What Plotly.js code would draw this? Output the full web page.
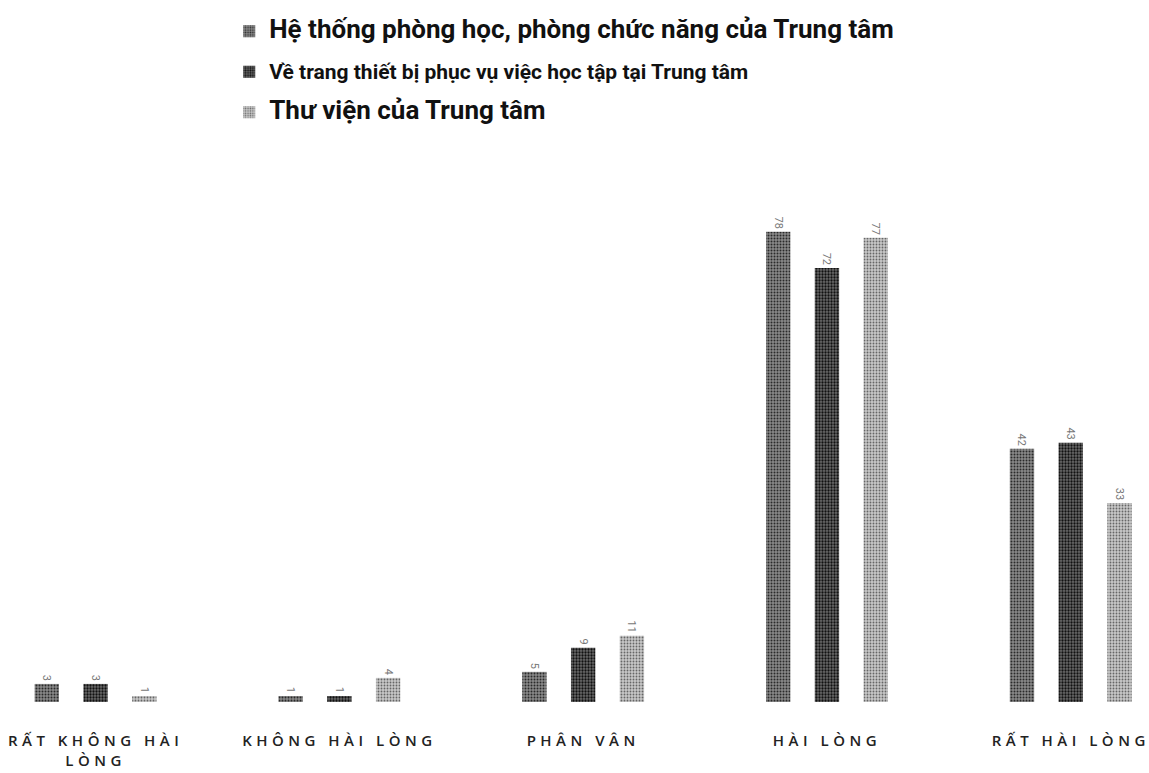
<!DOCTYPE html>
<html>
<head>
<meta charset="utf-8">
<script src="https://cdn.plot.ly/plotly-3.0.1.min.js"></script>
<style>
  html, body { margin: 0; padding: 0; background: #fff; }
  #chart { width: 1149px; height: 773px; }
  .xtick text { letter-spacing: 4.5px; }
</style>
</head>
<body>
<div id="chart"></div>
<script>
// Data
const categories = ["RẤT KHÔNG HÀI<br>LÒNG", "KHÔNG HÀI LÒNG", "PHÂN VÂN", "HÀI LÒNG", "RẤT HÀI LÒNG"];
const seriesNames = [
  "Hệ thống phòng học, phòng chức năng của Trung tâm",
  "Về trang thiết bị phục vụ việc học tập tại Trung tâm",
  "Thư viện của Trung tâm"
];
const phongHoc = [3, 1, 5, 78, 42];
const trangThietBi = [3, 1, 9, 72, 43];
const thuVien = [1, 4, 11, 77, 33];

const legendLabels = [
  "<span style='font-size:26px'><b>" + seriesNames[0] + "</b></span>",
  "<span style='font-size:21px'><b>" + seriesNames[1] + "</b></span>",
  "<span style='font-size:26px'><b>" + seriesNames[2] + "</b></span>"
];

const styles = [
  {bg: '#8a8a8a', fg: '#2a2a2a', solidity: 0.35},
  {bg: '#6a6a6a', fg: '#111111', solidity: 0.45},
  {bg: '#c8c8c8', fg: '#666666', solidity: 0.3}
];
const values = [phongHoc, trangThietBi, thuVien];

const traces = values.map((v, i) => ({
  type: 'bar',
  x: categories,
  y: v,
  name: legendLabels[i],
  legendgroup: 'g' + i,
  text: v.map(String),
  textposition: 'outside',
  textangle: 90,
  cliponaxis: false,
  textfont: {family: 'Roboto, sans-serif', size: 11, color: '#777'},
  marker: {
    color: styles[i].bg,
    line: {width: 0},
    pattern: {shape: '.', fgcolor: styles[i].fg, bgcolor: styles[i].bg, size: 3, solidity: styles[i].solidity}
  }
}));

const layout = {
  width: 1149,
  height: 773,
  paper_bgcolor: '#fff',
  plot_bgcolor: '#fff',
  margin: {l: 20, r: 10, t: 180, b: 71},
  barmode: 'group',
  bargap: 0.4,
  bargroupgap: 0.5,
  font: {family: 'Roboto, "Noto Sans", sans-serif', color: '#111'},
  showlegend: true,
  legend: {
    x: 0.187, xanchor: 'left',
    yref: 'container', y: 0.983, yanchor: 'top',
    orientation: 'v',
    font: {family: 'Roboto, sans-serif', size: 18, color: '#111'},
    tracegroupgap: 14,
    itemwidth: 30
  },
  xaxis: {
    type: 'category',
    range: [-0.31, 4.28],
    showgrid: false, zeroline: false, showline: false,
    ticks: '', ticklabelstandoff: 28,
    tickfont: {family: '"Open Sans", sans-serif', size: 15, color: '#222', weight: 600}
  },
  yaxis: {
    range: [0, 86.6],
    visible: false,
    showgrid: false, zeroline: false
  }
};

Plotly.newPlot('chart', traces, layout, {displayModeBar: false, staticPlot: true});
</script>
</body>
</html>
